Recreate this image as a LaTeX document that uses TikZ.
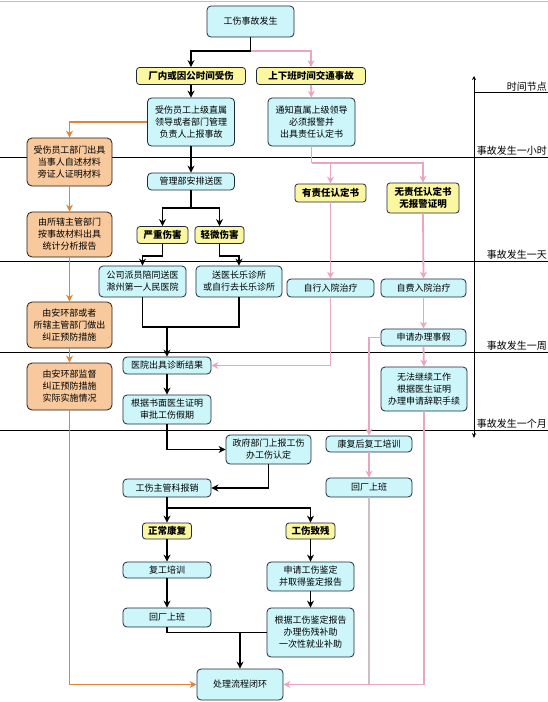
\documentclass[tikz,border=0pt]{standalone}
\usepackage{fontspec}
\setmainfont{Noto Sans CJK SC}
\usetikzlibrary{arrows.meta}
\definecolor{cyanf}{HTML}{CCF6FA}
\definecolor{yelf}{HTML}{FAF7A0}
\definecolor{oraf}{HTML}{F8C99C}
\definecolor{oral}{HTML}{E0843C}
\definecolor{pinkl}{HTML}{EAA6BF}
\definecolor{grayp}{HTML}{CDBDC6}
\definecolor{edgec}{HTML}{1E2A3A}
\newcommand\fsz{\fontsize{9}{12}\selectfont}
\newcommand\ysz{\fontsize{9.5}{12}\selectfont\bfseries}
\newcommand\tsz{\fontsize{10}{12}\selectfont}
\tikzset{
  base/.style={draw=edgec, line width=0.8pt, align=center, inner sep=0pt},
  cb/.style={base, fill=cyanf, rounded corners=4pt, font=\fsz},
  yb/.style={base, fill=yelf, rounded corners=3pt, font=\ysz},
  ob/.style={base, draw=black!80!brown, fill=oraf, rounded corners=5pt, font=\fsz},
  blk/.style={draw=black, line width=1.6pt, -{Stealth[length=7pt,width=7pt]}},
  blkn/.style={draw=black, line width=1.6pt},
  org/.style={draw=oral, line width=1.8pt, -{Stealth[length=7pt,width=7pt]}},
  pk/.style={draw=pinkl, line width=1.8pt, -{Stealth[length=7pt,width=7pt]}},
  pkn/.style={draw=pinkl, line width=1.8pt},
  tl/.style={anchor=south east, inner sep=1pt, font=\tsz},
  divl/.style={draw=black, line width=0.9pt}
}
\begin{document}
\begin{tikzpicture}[x=1pt,y=-1pt]
\useasboundingbox[fill=white] (0,0) rectangle (548,702);
\draw[gray!50, line width=0.8pt] (0,1.5) -- (548,1.5);

% time dividers
\draw[divl] (0,157) -- (548,157);
\draw[divl] (0,261) -- (548,261);
\draw[divl] (0,352) -- (548,352);
\draw[divl] (0,430) -- (548,430);
\draw[divl] (474,92) -- (548,92);
\coordinate (axt) at (474,76);
\coordinate (axb) at (474,438);
\draw[line width=0.9pt, {Stealth[length=4pt,width=4pt]}-{Stealth[length=5pt,width=4pt]}] (axt) -- (axb);
\node[tl] (t0) at (548,92) {时间节点};
\node[tl] (t1) at (548,157) {事故发生一小时};
\node[tl] (t2) at (548,261) {事故发生一天};
\node[tl] (t3) at (548,352) {事故发生一周};
\node[tl] (t4) at (548,430) {事故发生一个月};

% nodes
\node[cb, minimum width=87, minimum height=31] (s) at (250.5,21.5) {工伤事故发生};
\node[yb, minimum width=109, minimum height=17] (a1) at (191,76) {厂内或因公时间受伤};
\node[yb, minimum width=109, minimum height=17] (a2) at (311,76) {上下班时间交通事故};
\node[cb, minimum width=87, minimum height=48] (b1) at (191,122) {受伤员工上级直属\\领导或者部门管理\\负责人上报事故};
\node[cb, minimum width=87, minimum height=48] (b2) at (311.5,122) {通知直属上级领导\\必须报警并\\出具责任认定书};
\node[ob, minimum width=85, minimum height=48] (o1) at (69.5,162) {受伤员工部门出具\\当事人自述材料\\旁证人证明材料};
\node[cb, minimum width=87, minimum height=17] (c1) at (191,181.5) {管理部安排送医};
\node[yb, minimum width=71, minimum height=18] (yr) at (330.5,193) {有责任认定书};
\node[yb, minimum width=72, minimum height=30] (yw) at (423,198) {无责任认定书\\无报警证明};
\node[ob, minimum width=85, minimum height=45] (o2) at (69.5,234.5) {由所辖主管部门\\按事故材料出具\\统计分析报告};
\node[yb, minimum width=51, minimum height=17] (sev) at (162.5,235) {严重伤害};
\node[yb, minimum width=49, minimum height=17] (lig) at (219.5,235) {轻微伤害};
\node[cb, minimum width=87, minimum height=31] (h1) at (142.5,281.5) {公司派员陪同送医\\滁州第一人民医院};
\node[cb, minimum width=86, minimum height=31] (h2) at (239,281.5) {送医长乐诊所\\或自行去长乐诊所};
\node[cb, minimum width=87, minimum height=18] (z1) at (330.5,288) {自行入院治疗};
\node[cb, minimum width=85, minimum height=18] (z2) at (423.5,288) {自费入院治疗};
\node[ob, minimum width=85, minimum height=46] (o3) at (69.5,325) {由安环部或者\\所辖主管部门做出\\纠正预防措施};
\node[cb, minimum width=85, minimum height=17] (z3) at (423.5,337.5) {申请办理事假};
\node[cb, minimum width=88, minimum height=17] (r1) at (167,365.5) {医院出具诊断结果};
\node[ob, minimum width=85, minimum height=47] (o4) at (69.5,386.5) {由安环部监督\\纠正预防措施\\实际实施情况};
\node[cb, minimum width=86, minimum height=44] (w) at (424,389) {无法继续工作\\根据医生证明\\办理申请辞职手续};
\node[cb, minimum width=88, minimum height=29] (r2) at (167,409.5) {根据书面医生证明\\审批工伤假期};
\node[cb, minimum width=86, minimum height=16] (k1) at (369,444) {康复后复工培训};
\node[cb, minimum width=85, minimum height=29] (g1) at (268.5,449.5) {政府部门上报工伤\\办工伤认定};
\node[cb, minimum width=88, minimum height=18] (bx) at (167,488) {工伤主管科报销};
\node[cb, minimum width=86, minimum height=19] (k2) at (369,487.5) {回厂上班};
\node[yb, minimum width=49, minimum height=16] (nr) at (167,531) {正常康复};
\node[yb, minimum width=49, minimum height=16] (dis) at (310.5,531) {工伤致残};
\node[cb, minimum width=88, minimum height=16] (fg) at (167,570) {复工培训};
\node[cb, minimum width=87, minimum height=29] (ap) at (310.5,576.5) {申请工伤鉴定\\并取得鉴定报告};
\node[cb, minimum width=88, minimum height=19] (hc) at (167,617.5) {回厂上班};
\node[cb, minimum width=87, minimum height=49] (cp) at (310.5,632.5) {根据工伤鉴定报告\\办理伤残补助\\一次性就业补助};
\node[cb, minimum width=86, minimum height=31] (e) at (240,684.5) {处理流程闭环};

% pink connectors
\coordinate (j0) at (250.5,51);
\draw[pk] (j0) -| (a2.north);
\draw[pk] (a2.south) -- (b2.north);
\coordinate (j5) at (311.5,163);
\draw[pkn] (b2.south) -- (j5);
\draw[pk] (j5) -| (yw.north);
\draw[pk] (j5) -| (yr.north);
\draw[pk] (yr.south) -- (z1.north);
\draw[pk] (yw.south) -- (z2.north);
\draw[pk] (z2.south) -- (z3.north);
\draw[pk] (z3.south) -- (w.north);
\draw[pk] (z1.south) |- (r1.east);
\draw[pk] (z3.west) -| (k1.north);
\draw[pk] (k1.south) -- (k2.north);
\coordinate (j6) at (369,684.5);
\draw[grayp, line width=1.8pt] (k2.south) -- (j6);
\draw[pk] (w.south) |- (e.east);

% black connectors
\draw[blk] (s.south) -- (j0) -| (a1.north);
\draw[blk] (a1.south) -- (b1.north);
\draw[blk] (b1.south) -- (c1.north);
\coordinate (j1) at (191,208);
\draw[blkn] (c1.south) -- (j1);
\draw[blk] (j1) -| (sev.north);
\draw[blk] (j1) -| (lig.north);
\draw[blk] (sev.south) -- ++(0,12) -| (h1.north);
\draw[blk] (lig.south) -- ++(0,12) -| (h2.north);
\coordinate (j2) at (167,327);
\draw[blkn] (h1.south) |- (j2) -| (h2.south);
\draw[blk] (j2) -- (r1.north);
\draw[blk] (r1.south) -- (r2.north);
\draw[blk] (r2.south) |- (g1.west);
\draw[blk] (g1.south) |- (bx.east);
\coordinate (j3) at (167,508);
\draw[blk] (bx.south) -- (nr.north);
\draw[blk] (j3) -| (dis.north);
\draw[blk] (nr.south) -- (fg.north);
\draw[blk] (fg.south) -- (hc.north);
\draw[blk] (dis.south) -- (ap.north);
\draw[blk] (ap.south) -- (cp.north);
\coordinate (j4) at (240,632.5);
\draw[blkn] (hc.south) |- (cp.west);
\draw[blk] (j4) -- (e.north);

% orange connectors
\draw[org] (b1.west) -| (o1.north);
\draw[org] (o1.south) -- (o2.north);
\draw[org] (o2.south) -- (o3.north);
\draw[org] (o3.south) -- (o4.north);
\draw[org] (o4.south) |- (e.west);
\end{tikzpicture}
\end{document}
